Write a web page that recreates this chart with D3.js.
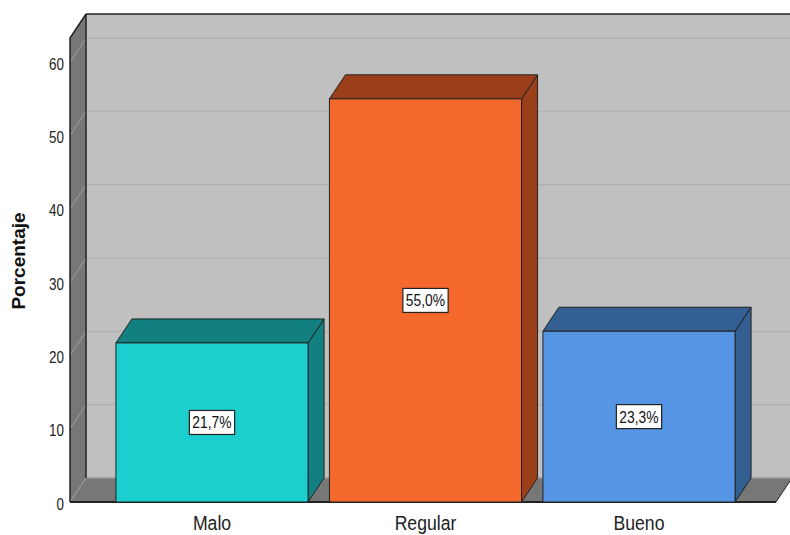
<!DOCTYPE html>
<html>
<head>
<meta charset="utf-8">
<script src="https://cdn.jsdelivr.net/npm/d3@7"></script>
<style>
  html, body { margin: 0; padding: 0; background: #fff; }
  svg { display: block; }
  text { font-family: "Liberation Sans", Arial, sans-serif; }
</style>
</head>
<body>
<svg id="chart" width="790" height="535"></svg>
<script>
// Category labels and percentage per category
const categories = ["Malo", "Regular", "Bueno"];
const values = [21.7, 55.0, 23.3];
const valueLabels = ["21,7%", "55,0%", "23,3%"];
const yTicks = [0, 10, 20, 30, 40, 50, 60];
const frontColors = ["#1ccfcf", "#f4682c", "#5595e3"];
const shadeColors = ["#128080", "#9a3f1a", "#335f92"];

const svg = d3.select("#chart");

// 3D depth offset of the plot box
const dx = 16, dy = -24;
const plotLeft = 70, plotRight = 776, plotBottom = 502, plotTop = 38;
// horizontal condensing applied to the chart's text
const squeeze = 0.84;

const y = d3.scaleLinear().domain([0, 63.3]).range([plotBottom, plotTop]);
const x = d3.scaleBand()
  .domain(categories)
  .range([105.25, 745.75])
  .paddingInner(0.1)
  .paddingOuter(0.05);

const poly = pts => pts.map(p => p.join(",")).join(" ");
const placeText = (tx, ty) => `translate(${tx},${ty}) scale(${squeeze},1)`;

// Back wall
svg.append("rect")
  .attr("x", plotLeft + dx).attr("y", plotTop + dy)
  .attr("width", plotRight - plotLeft + 20).attr("height", plotBottom - plotTop)
  .attr("fill", "#c0c0c0");

// Left wall
svg.append("polygon")
  .attr("points", poly([[plotLeft, plotTop], [plotLeft + dx, plotTop + dy], [plotLeft + dx, plotBottom + dy], [plotLeft, plotBottom]]))
  .attr("fill", "#777777");

// Floor
svg.append("polygon")
  .attr("points", poly([[plotLeft, plotBottom], [plotLeft + dx, plotBottom + dy], [plotRight + dx, plotBottom + dy], [plotRight, plotBottom]]))
  .attr("fill", "#777777");

// Gridlines: diagonal on the left wall, horizontal on the back wall
const grid = svg.append("g");
yTicks.forEach(t => {
  const yy = y(t);
  grid.append("line")
    .attr("x1", plotLeft).attr("y1", yy).attr("x2", plotLeft + dx).attr("y2", yy + dy)
    .attr("stroke", "#a0a0a0").attr("stroke-width", 1);
  grid.append("line")
    .attr("x1", plotLeft + dx).attr("y1", yy + dy).attr("x2", plotRight + dx + 20).attr("y2", yy + dy)
    .attr("stroke", t === 0 ? "#9a9a9a" : "#b2b2b2").attr("stroke-width", 1.5);
});

// Box edges
svg.append("line").attr("x1", plotLeft + dx).attr("y1", plotTop + dy).attr("x2", 800).attr("y2", plotTop + dy)
  .attr("stroke", "#222").attr("stroke-width", 1.5);
svg.append("line").attr("x1", plotLeft + dx).attr("y1", plotTop + dy).attr("x2", plotLeft + dx).attr("y2", plotBottom + dy)
  .attr("stroke", "#222").attr("stroke-width", 1.5);
svg.append("polyline")
  .attr("points", poly([[plotLeft, plotBottom], [plotLeft, plotTop], [plotLeft + dx, plotTop + dy]]))
  .attr("fill", "none").attr("stroke", "#222").attr("stroke-width", 1.5);
svg.append("line").attr("x1", plotLeft).attr("y1", plotBottom).attr("x2", plotRight).attr("y2", plotBottom)
  .attr("stroke", "#222").attr("stroke-width", 2);
svg.append("line").attr("x1", plotRight).attr("y1", plotBottom).attr("x2", plotRight + dx).attr("y2", plotBottom + dy)
  .attr("stroke", "#222").attr("stroke-width", 1);

// Bars
const bars = svg.append("g");
categories.forEach((c, i) => {
  const x0 = x(c), x1 = x(c) + x.bandwidth();
  const yt = y(values[i]);
  const g = bars.append("g").attr("stroke", "#222").attr("stroke-width", 1).attr("stroke-linejoin", "round");
  g.append("polygon")
    .attr("points", poly([[x1, yt], [x1 + dx, yt + dy], [x1 + dx, plotBottom + dy], [x1, plotBottom]]))
    .attr("fill", shadeColors[i]);
  g.append("polygon")
    .attr("points", poly([[x0, yt], [x0 + dx, yt + dy], [x1 + dx, yt + dy], [x1, yt]]))
    .attr("fill", shadeColors[i]);
  g.append("rect")
    .attr("x", x0).attr("y", yt).attr("width", x1 - x0).attr("height", plotBottom - yt)
    .attr("fill", frontColors[i]);

  // Value label box
  const cx = (x0 + x1) / 2, cy = (yt + plotBottom) / 2;
  const lbl = bars.append("g");
  const txt = lbl.append("text")
    .attr("transform", placeText(cx, cy + 6))
    .attr("text-anchor", "middle")
    .attr("font-size", 16.5)
    .attr("fill", "#111")
    .text(valueLabels[i]);
  const w = txt.node().getBBox().width * squeeze;
  lbl.insert("rect", "text")
    .attr("x", cx - w / 2 - 3).attr("y", cy - 12)
    .attr("width", w + 6).attr("height", 24)
    .attr("fill", "#fff").attr("stroke", "#222").attr("stroke-width", 1.2);
});

// Y axis tick labels
svg.append("g").selectAll("text").data(yTicks).join("text")
  .attr("transform", d => placeText(64, y(d) + 7.5))
  .attr("text-anchor", "end")
  .attr("font-size", 16)
  .attr("fill", "#222")
  .text(d => d);

// Category labels
svg.append("g").selectAll("text").data(categories).join("text")
  .attr("transform", d => placeText(x(d) + x.bandwidth() / 2, 530))
  .attr("text-anchor", "middle")
  .attr("font-size", 21)
  .attr("fill", "#222")
  .text(d => d);

// Y axis title
svg.append("text")
  .attr("transform", "translate(25,261) rotate(-90)")
  .attr("text-anchor", "middle")
  .attr("font-size", 19)
  .attr("font-weight", "bold")
  .attr("fill", "#111")
  .text("Porcentaje");
</script>
</body>
</html>
